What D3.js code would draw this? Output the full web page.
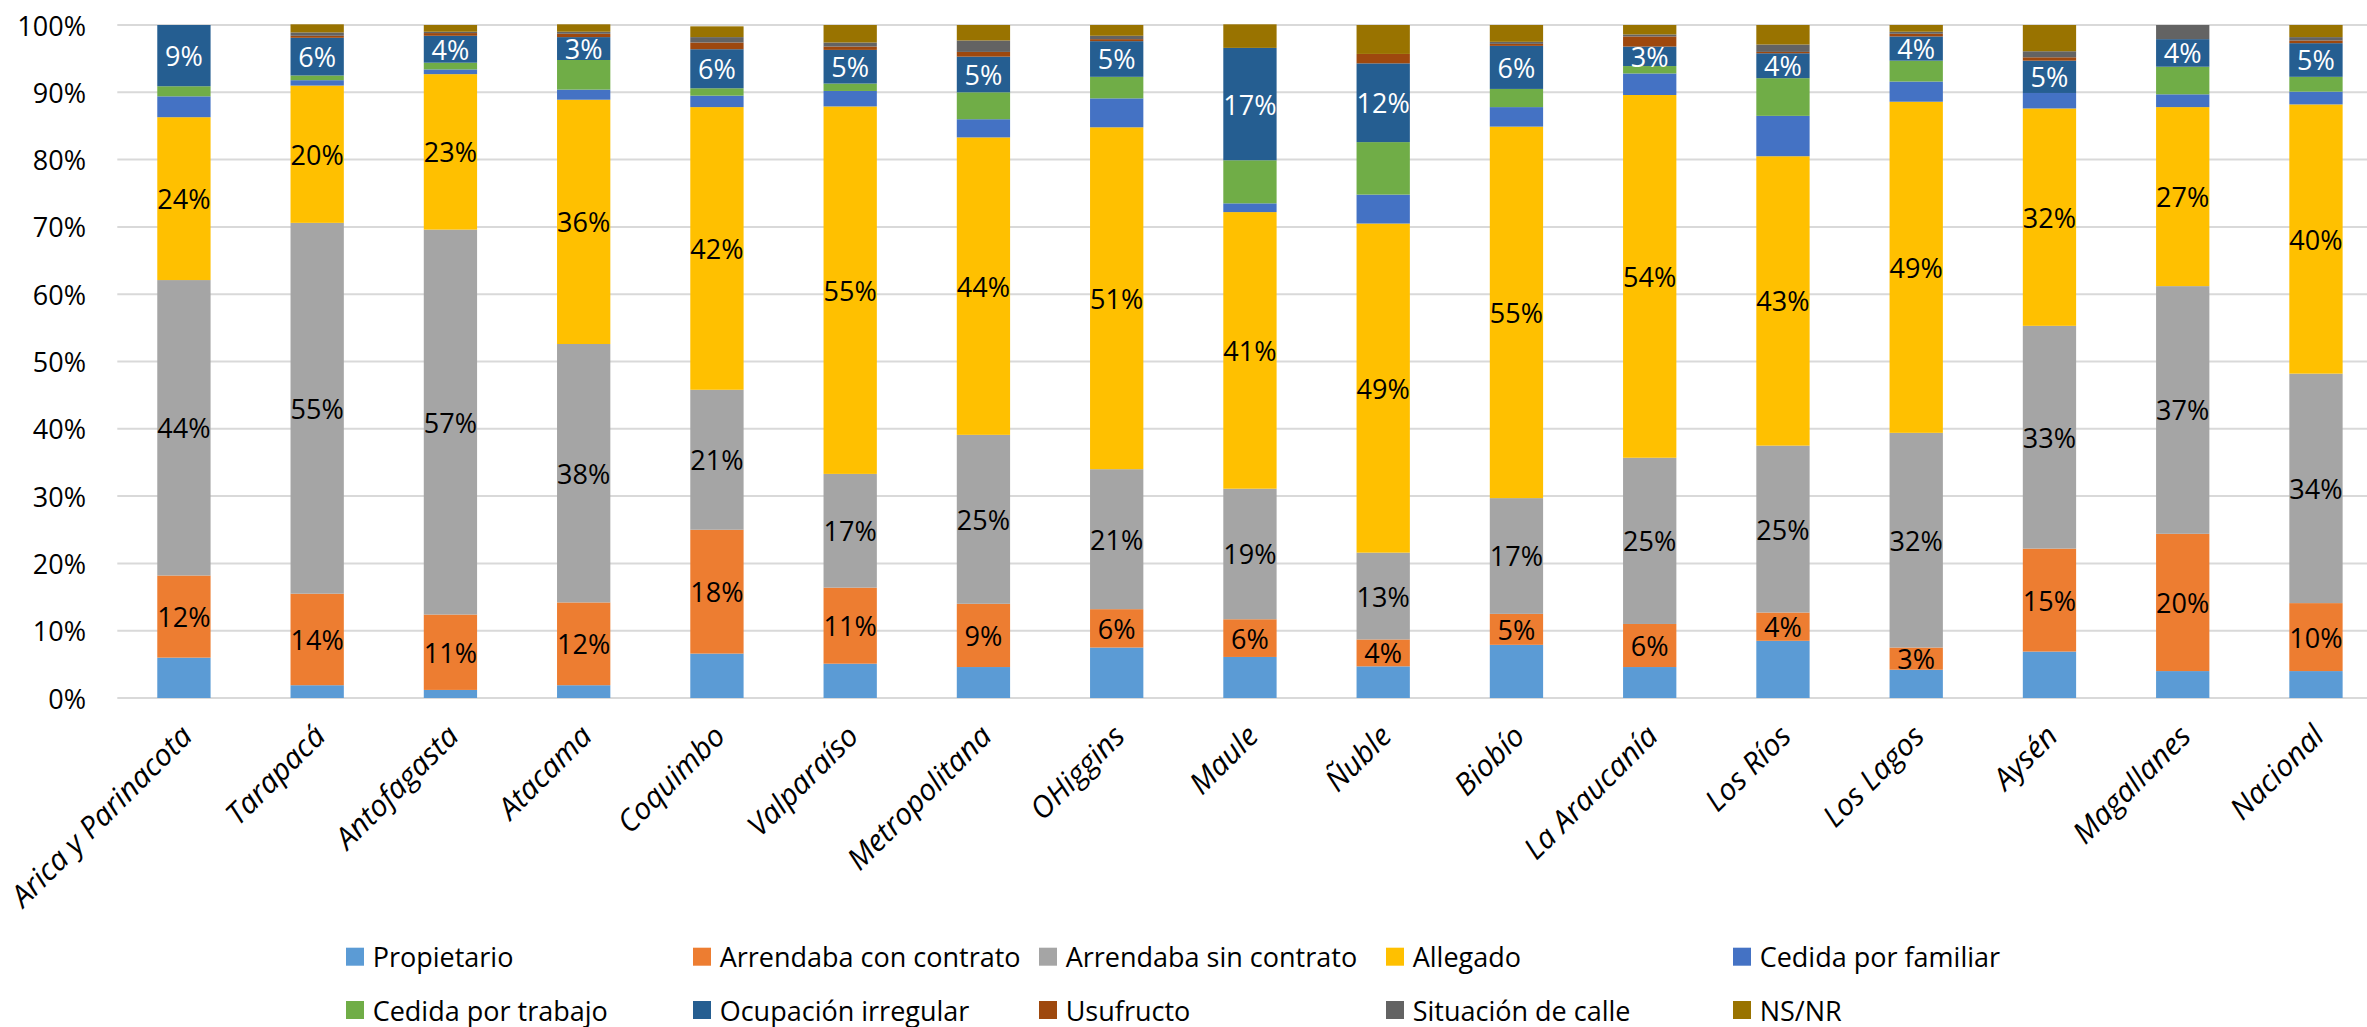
<!DOCTYPE html>
<html>
<head>
<meta charset="utf-8">
<script src="https://cdn.jsdelivr.net/npm/d3@7"></script>
<style>
  html, body { margin: 0; padding: 0; background: #fff; }
  svg { display: block; }
  text { font-family: "Open Sans", "Liberation Sans", sans-serif; }
</style>
</head>
<body>
<svg id="chart" width="2367" height="1027"></svg>
<script>
// ---------- DATA (percent values) ----------
const categories = ["Arica y Parinacota","Tarapacá","Antofagasta","Atacama","Coquimbo","Valparaíso","Metropolitana","OHiggins","Maule","Ñuble","Biobío","La Araucanía","Los Ríos","Los Lagos","Aysén","Magallanes","Nacional"];

const seriesNames = ["Propietario","Arrendaba con contrato","Arrendaba sin contrato","Allegado","Cedida por familiar","Cedida por trabajo","Ocupación irregular","Usufructo","Situación de calle","NS/NR"];

const propietario          = [6.0, 1.9, 1.2, 1.9, 6.6, 5.1, 4.6, 7.5, 6.1, 4.7, 7.9, 4.6, 8.5, 4.2, 6.9, 4.0, 4.0];
const arrendabaConContrato = [12.2,13.6,11.2,12.3,18.4,11.3, 9.4, 5.7, 5.6, 4.0, 4.6, 6.4, 4.2, 3.3,15.3,20.4,10.1];
const arrendabaSinContrato = [43.9,55.1,57.2,38.4,20.8,16.9,25.1,20.8,19.4,12.9,17.2,24.7,24.8,31.9,33.1,36.8,34.1];
const allegado             = [24.2,20.4,23.1,36.3,42.0,54.6,44.2,50.8,41.1,48.9,55.2,53.9,43.0,49.2,32.3,26.6,40.0];
const cedidaFamiliar       = [3.1, 0.8, 0.7, 1.5, 1.7, 2.3, 2.7, 4.3, 1.3, 4.3, 2.9, 3.2, 6.0, 3.0, 2.3, 1.9, 1.9];
const cedidaTrabajo        = [1.5, 0.7, 1.0, 4.4, 1.1, 1.1, 4.0, 3.2, 6.4, 7.8, 2.7, 1.1, 5.6, 3.1, 0.0, 4.1, 2.2];
const ocupacionIrregular   = [9.1, 5.6, 4.0, 3.4, 5.8, 5.0, 5.3, 5.3,16.7,11.7, 6.4, 2.9, 3.7, 3.6, 4.8, 4.1, 5.0];
const usufructo            = [0.0, 0.3, 0.4, 0.5, 1.0, 0.5, 0.7, 0.3, 0.0, 1.4, 0.3, 1.5, 0.2, 0.4, 0.5, 0.0, 0.4];
const situacionCalle       = [0.0, 0.5, 0.2, 0.3, 0.8, 0.6, 1.7, 0.5, 0.0, 0.0, 0.3, 0.3, 1.1, 0.3, 0.9, 2.1, 0.5];
const nsnr                 = [0.0, 1.2, 1.0, 1.1, 1.6, 2.6, 2.3, 1.6, 3.5, 4.3, 2.5, 1.4, 2.9, 1.0, 3.9, 0.0, 1.8];

const yTicks = [0, 10, 20, 30, 40, 50, 60, 70, 80, 90, 100];
const labelledSeries = ["Arrendaba con contrato","Arrendaba sin contrato","Allegado","Ocupación irregular"];

// ---------- build table ----------
const seriesValues = [propietario, arrendabaConContrato, arrendabaSinContrato, allegado, cedidaFamiliar, cedidaTrabajo, ocupacionIrregular, usufructo, situacionCalle, nsnr];
const colors = ["#5B9BD5","#ED7D31","#A5A5A5","#FFC000","#4472C4","#70AD47","#255E91","#9E480E","#636363","#997300"];
const labelColors = {"Ocupación irregular": "#FFFFFF"};

const table = categories.map((c, i) => {
  const row = {category: c};
  seriesNames.forEach((s, j) => row[s] = seriesValues[j][i]);
  return row;
});
const stacked = d3.stack().keys(seriesNames)(table);

// ---------- layout ----------
const svg = d3.select("#chart");
const plotLeft = 117.3, plotRight = 2382.6, plotTop = 25, plotBottom = 698;

const x = d3.scaleBand().domain(categories).range([plotLeft, plotRight]).paddingInner(0.6).paddingOuter(0.3);
const y = d3.scaleLinear().domain([0, 100]).range([plotBottom, plotTop]);
const color = d3.scaleOrdinal().domain(seriesNames).range(colors);

// gridlines
svg.append("g").selectAll("line").data(yTicks).join("line")
  .attr("x1", plotLeft).attr("x2", 2367)
  .attr("y1", d => y(d)).attr("y2", d => y(d))
  .attr("stroke", "#D9D9D9").attr("stroke-width", 2);

// y axis labels
svg.append("g").selectAll("text").data(yTicks).join("text")
  .attr("x", 86).attr("y", d => y(d))
  .attr("text-anchor", "end").attr("dominant-baseline", "central")
  .attr("font-size", 27).attr("fill", "#000")
  .text(d => d + "%");

// bars
const layers = svg.append("g").selectAll("g").data(stacked).join("g")
  .attr("fill", d => color(d.key));
layers.selectAll("rect").data(d => d).join("rect")
  .attr("x", d => x(d.data.category))
  .attr("width", x.bandwidth())
  .attr("y", d => y(d[1]))
  .attr("height", d => Math.max(0, y(d[0]) - y(d[1])));

// data labels
const lab = svg.append("g");
stacked.filter(s => labelledSeries.includes(s.key)).forEach(s => {
  lab.selectAll(null).data(s).join("text")
    .attr("x", d => x(d.data.category) + x.bandwidth() / 2)
    .attr("y", d => y((d[0] + d[1]) / 2))
    .attr("text-anchor", "middle").attr("dominant-baseline", "central")
    .attr("font-size", 27)
    .attr("fill", labelColors[s.key] || "#000")
    .text(d => Math.round(d[1] - d[0]) + "%");
});

// x axis labels
svg.append("g").selectAll("text").data(categories).join("text")
  .attr("transform", d => `translate(${x(d) + x.bandwidth() / 2 + 10},${plotBottom + 40}) rotate(-45)`)
  .attr("text-anchor", "end")
  .attr("font-size", 30).attr("font-style", "italic").attr("fill", "#000")
  .text(d => d);

// legend
const legendCols = [346, 693, 1039, 1386, 1733];
const legendRows = [956.7, 1010];
const lg = svg.append("g").selectAll("g").data(seriesNames).join("g")
  .attr("transform", (d, i) => `translate(${legendCols[i % 5]},${legendRows[Math.floor(i / 5)]})`);
lg.append("rect").attr("x", 0).attr("y", -9).attr("width", 18).attr("height", 18)
  .attr("fill", d => color(d));
lg.append("text").attr("x", 26.7).attr("y", 0)
  .attr("dominant-baseline", "central").attr("font-size", 27).attr("fill", "#000")
  .text(d => d);
</script>
</body>
</html>
